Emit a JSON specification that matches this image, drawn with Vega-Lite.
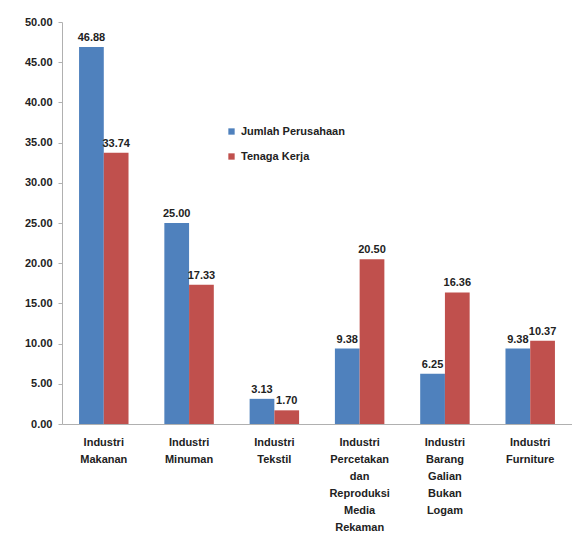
{
  "$schema": "https://vega.github.io/schema/vega-lite/v6.json",
  "width": 510,
  "height": 402,
  "autosize": {"type": "none"},
  "padding": {"left": 62, "top": 22, "right": 0, "bottom": 112},
  "background": "white",
  "config": {
    "font": "Liberation Sans",
    "view": {"stroke": null},
    "axis": {"grid": false, "domainColor": "#b0b0b0", "tickColor": "#b0b0b0", "labelFontWeight": "bold", "labelFontSize": 11, "labelColor": "#222222", "title": null}
  },
  "data": {
    "values": [
      {"kategori": "Industri Makanan", "seri": "Jumlah Perusahaan", "nilai": 46.88},
      {"kategori": "Industri Makanan", "seri": "Tenaga Kerja", "nilai": 33.74},
      {"kategori": "Industri Minuman", "seri": "Jumlah Perusahaan", "nilai": 25.00},
      {"kategori": "Industri Minuman", "seri": "Tenaga Kerja", "nilai": 17.33},
      {"kategori": "Industri Tekstil", "seri": "Jumlah Perusahaan", "nilai": 3.13},
      {"kategori": "Industri Tekstil", "seri": "Tenaga Kerja", "nilai": 1.70},
      {"kategori": "Industri Percetakan dan Reproduksi Media Rekaman", "seri": "Jumlah Perusahaan", "nilai": 9.38},
      {"kategori": "Industri Percetakan dan Reproduksi Media Rekaman", "seri": "Tenaga Kerja", "nilai": 20.50},
      {"kategori": "Industri Barang Galian Bukan Logam", "seri": "Jumlah Perusahaan", "nilai": 6.25},
      {"kategori": "Industri Barang Galian Bukan Logam", "seri": "Tenaga Kerja", "nilai": 16.36},
      {"kategori": "Industri Furniture", "seri": "Jumlah Perusahaan", "nilai": 9.38},
      {"kategori": "Industri Furniture", "seri": "Tenaga Kerja", "nilai": 10.37}
    ]
  },
  "encoding": {
    "x": {
      "field": "kategori", "type": "nominal", "sort": null,
      "scale": {"paddingInner": 0.42, "paddingOuter": 0.2},
      "axis": {"labelAngle": 0, "labelExpr": "split(datum.label, ' ')", "labelLineHeight": 17, "ticks": false, "labelPadding": 12, "labelBaseline": "top"}
    },
    "xOffset": {"field": "seri", "type": "nominal", "sort": ["Jumlah Perusahaan", "Tenaga Kerja"]},
    "y": {
      "field": "nilai", "type": "quantitative",
      "scale": {"domain": [0, 50]},
      "axis": {"values": [0, 5, 10, 15, 20, 25, 30, 35, 40, 45, 50], "format": ".2f", "tickSize": 4, "labelPadding": 6}
    }
  },
  "layer": [
    {
      "mark": {"type": "bar"},
      "encoding": {
        "color": {
          "field": "seri", "type": "nominal",
          "scale": {"domain": ["Jumlah Perusahaan", "Tenaga Kerja"], "range": ["#4F81BD", "#C0504D"]},
          "legend": {"orient": "none", "legendX": 164, "legendY": 104, "title": null, "symbolType": "square", "symbolSize": 40, "labelFontWeight": "bold", "labelFontSize": 11, "rowPadding": 13, "labelColor": "#222222"}
        }
      }
    },
    {
      "mark": {"type": "text", "dy": -9, "fontWeight": "bold", "fontSize": 11, "color": "#222222"},
      "encoding": {"text": {"field": "nilai", "type": "quantitative", "format": ".2f"}}
    }
  ]
}
